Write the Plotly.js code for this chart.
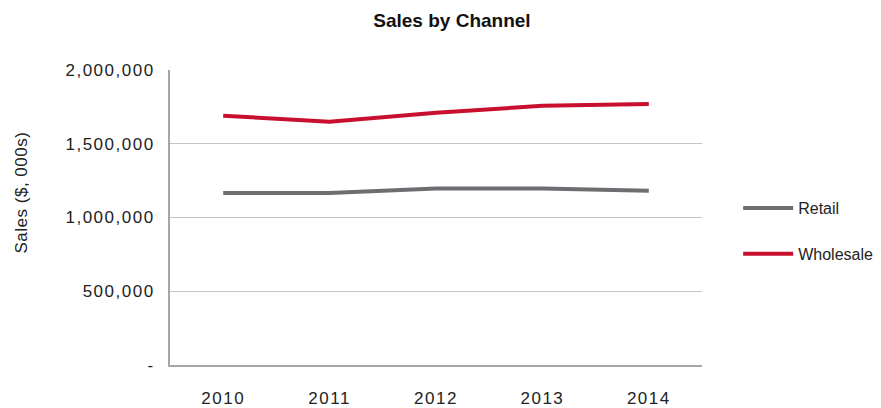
<!DOCTYPE html>
<html>
<head>
<meta charset="utf-8">
<script src="https://cdn.plot.ly/plotly-3.0.1.min.js"></script>
<style>
html,body{margin:0;padding:0;background:#fff;}
#chart{width:881px;height:408px;}
.xtick text, .ytick text { letter-spacing: 1.5px; }
.annotation-text { letter-spacing: 0.5px; }
</style>
</head>
<body>
<div id="chart"></div>
<script>
const years = ["2010", "2011", "2012", "2013", "2014"];
const retail = [1166000, 1166000, 1196000, 1196000, 1182000];
const wholesale = [1690000, 1650000, 1710000, 1757000, 1769000];
const yTickVals = [0, 500000, 1000000, 1500000, 2000000];
const yTickText = ["-", "500,000", "1,000,000", "1,500,000", "2,000,000"];

const FONT = "Liberation Sans, Arial, sans-serif";

const data = [
  {x: years, y: retail, name: "Retail", type: "scatter", mode: "lines",
   line: {color: "#6d6e71", width: 4}, legendgroup: "a"},
  {x: years, y: wholesale, name: "Wholesale", type: "scatter", mode: "lines",
   line: {color: "#c8102e", width: 4}, legendgroup: "b"}
];

const layout = {
  width: 881, height: 408,
  margin: {l: 170, r: 179, t: 70, b: 43, autoexpand: false},
  paper_bgcolor: "#fff", plot_bgcolor: "#fff",
  font: {family: FONT, color: "#222", size: 17},
  title: {text: "<b>Sales by Channel</b>", font: {family: FONT, size: 19, color: "#111"},
          xref: "paper", x: 0.53, xanchor: "center", yref: "container", y: 0.95, yanchor: "middle"},
  xaxis: {type: "category", range: [-0.5, 4.5], showgrid: false, zeroline: false,
          showline: true, linecolor: "#a6a6a6", linewidth: 2,
          ticks: "outside", ticklen: 17, tickcolor: "rgba(0,0,0,0)",
          tickfont: {size: 17, color: "#222"}},
  yaxis: {range: [0, 2000000], tickvals: yTickVals, ticktext: yTickText,
          showgrid: true, gridcolor: "#c4c4c4", gridwidth: 1, zeroline: false,
          showline: true, linecolor: "#a6a6a6", linewidth: 2,
          ticks: "outside", ticklen: 10, tickcolor: "rgba(0,0,0,0)",
          tickfont: {size: 17, color: "#222"}},
  showlegend: true,
  legend: {x: 1.068, xanchor: "left", y: 0.454, yanchor: "middle", tracegroupgap: 22,
           itemwidth: 50,
           font: {size: 16, color: "#222"}, bgcolor: "rgba(0,0,0,0)"},
  annotations: [{text: "Sales ($, 000s)", textangle: -90, xref: "paper", yref: "paper",
                 x: -0.28, y: 0.585, xanchor: "center", yanchor: "middle",
                 showarrow: false, font: {size: 17, color: "#222"}}]
};

Plotly.newPlot("chart", data, layout, {displayModeBar: false, staticPlot: true});
</script>
</body>
</html>
